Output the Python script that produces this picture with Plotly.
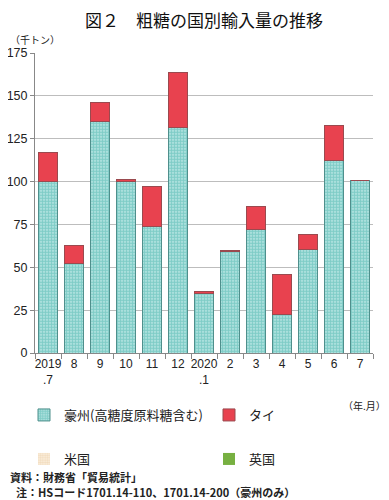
import plotly.graph_objects as go

months = ["2019<br>.7", "8", "9", "10", "11", "12", "2020<br>.1", "2", "3", "4", "5", "6", "7"]
australia = [100.3, 52.1, 135.1, 99.8, 73.8, 131.5, 35.0, 59.3, 71.9, 22.5, 60.6, 112.5, 100.4]
thailand = [16.4, 10.4, 11.0, 1.4, 23.3, 32.2, 0.8, 0.3, 13.3, 23.4, 8.8, 20.3, 0.0]
usa = [0] * 13
uk = [0] * 13

JP = "Noto Sans CJK JP"
NUM = "Liberation Sans"

# page body has an 8px margin; figure is sized to fill the rest of the window
OFF = 8
W, H = 389 - OFF, 500 - OFF

fig = go.Figure()
fig.add_trace(go.Bar(
    x=months, y=australia, name="豪州(高糖度原料糖含む)",
    marker=dict(color="#c4ebe8", line=dict(color="#4f8f8c", width=1),
                pattern=dict(shape=".", fgcolor="#3aaea6", size=3, solidity=0.7)),
    legend="legend"))
fig.add_trace(go.Bar(
    x=months, y=thailand, name="タイ",
    marker=dict(color="#e8424f", line=dict(color="#9a4a4f", width=1)),
    legend="legend2"))
fig.add_trace(go.Bar(
    x=months, y=usa, name="米国",
    marker=dict(color="#fbefdf", line=dict(width=0),
                pattern=dict(shape=".", fgcolor="#e8c9a0", size=3, solidity=0.6)),
    legend="legend3"))
fig.add_trace(go.Bar(
    x=months, y=uk, name="英国",
    marker=dict(color="#77b041", line=dict(width=0)),
    legend="legend4"))

leg_common = dict(orientation="h", xanchor="left", yanchor="middle",
                  xref="container", yref="container", itemwidth=30,
                  font=dict(family=JP, size=13), bgcolor="rgba(0,0,0,0)")


def lx(px):
    return (px - OFF) / W


def ly(py):
    return 1 - (py - OFF) / H


fig.update_layout(
    width=W, height=H,
    barmode="stack", bargap=0.27,
    margin=dict(l=35 - OFF, r=16, t=53 - OFF, b=147, autoexpand=False),
    plot_bgcolor="white", paper_bgcolor="white",
    font=dict(family=NUM, size=12, color="#222"),
    xaxis=dict(type="category", tickson="boundaries", ticks="outside", ticklen=5,
               tickcolor="#888", showline=True, linecolor="#888", linewidth=1,
               tickangle=0, tickfont=dict(family=NUM, size=12), showgrid=False),
    yaxis=dict(range=[0, 175], dtick=25, ticks="outside", ticklen=4, tickcolor="#888",
               showline=True, linecolor="#888", linewidth=1, gridcolor="#bdbdbd",
               gridwidth=1, tickfont=dict(family=NUM, size=12.5), zeroline=False),
    legend=dict(x=lx(24), y=ly(415), **leg_common),
    legend2=dict(x=lx(209), y=ly(415), **leg_common),
    legend3=dict(x=lx(24), y=ly(459), **leg_common),
    legend4=dict(x=lx(209), y=ly(459), **leg_common),
    showlegend=True,
)

annotations = [
    dict(text="図２　粗糖の国別輸入量の推移", x=0.5, y=19, font=dict(family=JP, size=17, color="#111"),
         xanchor="center"),
    dict(text="（千トン）", x=8, y=39, font=dict(family=JP, size=10), xanchor="left"),
    dict(text="（年.月）", x=388, y=405, font=dict(family=JP, size=10), xanchor="right"),
    dict(text="<b>資料：財務省「貿易統計」</b>", x=8, y=477, font=dict(family=JP, size=11),
         xanchor="left"),
    dict(text="<b>注：HSコード1701.14-110、1701.14-200（豪州のみ）</b>", x=14, y=492,
         font=dict(family=JP, size=11), xanchor="left"),
]
for a in annotations:
    xv = a.pop("x")
    yv = a.pop("y")
    xp = 0.5 if xv == 0.5 else (xv - 35) / 338
    yp = (353 - yv) / 300
    fig.add_annotation(x=xp, y=yp, xref="paper", yref="paper", yanchor="middle",
                       showarrow=False, **a)

fig.write_html("out.html")
